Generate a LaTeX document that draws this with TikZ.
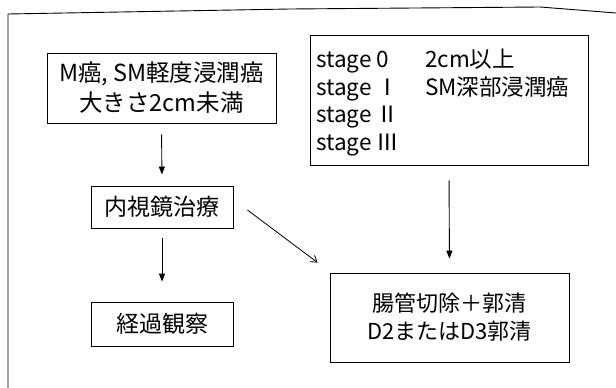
\documentclass[tikz,border=0pt]{standalone}
\usepackage{fontspec}
\newfontfamily\jpfont{Noto Sans CJK JP}
\usetikzlibrary{arrows.meta}
\tikzset{
  every picture/.style={x=1pt,y=-1pt},
  boxnode/.style={draw, line width=0.9pt, inner sep=0pt, align=center,
    font=\jpfont\fontsize{23}{29}\selectfont},
  solidarrow/.style={line width=0.9pt, -{Triangle[length=8pt,width=6pt]}},
  openarrow/.style={line width=0.8pt, -{Straight Barb[length=6pt,width=8pt]}},
}
\begin{document}
\begin{tikzpicture}
\useasboundingbox (0,0) rectangle (616,388);
% outer frame (only top and left visible)
\draw[line width=0.9pt] (8,392) -- (8,14) -- (290,9) -- (540,7) -- (616,13);

\node[boxnode, minimum width=229pt, minimum height=70pt, font=\jpfont\fontsize{23.5}{30}\selectfont] (early) at (161.5,88)
  {M癌, SM軽度浸潤癌\\大きさ2cm未満};
\node[boxnode, minimum width=278pt, minimum height=130pt] (stage) at (449,100) {};
\node[anchor=north west, inner sep=0pt, font=\jpfont\fontsize{22.5}{27.7}\selectfont] (stagetext) at (316,48)
  {\begin{tabular}{@{}p{109pt}@{}l@{}}
   stage 0 & 2cm以上\\
   stage Ⅰ & SM深部浸潤癌\\
   stage Ⅱ & \\
   stage Ⅲ &
   \end{tabular}};
\node[boxnode, minimum width=142pt, minimum height=42pt] (endo) at (162,207) {内視鏡治療};
\node[boxnode, minimum width=142pt, minimum height=44pt] (obs) at (162,324) {経過観察};
\node[boxnode, minimum width=239pt, minimum height=89pt, font=\jpfont\fontsize{22}{28}\selectfont] (surg) at (449.5,317.5)
  {腸管切除＋郭清\\D2またはD3郭清};

\draw[solidarrow, shorten <=11pt, shorten >=11pt] (early.south) -- (endo.north);
\draw[solidarrow, shorten <=10pt, shorten >=20pt] (endo.south) -- (obs.north);
\draw[solidarrow, shorten <=15pt, shorten >=14pt] (stage.south) -- (surg.north);
\draw[openarrow] ([shift={(14,3)}]endo.east) -- ([shift={(-12,-10)}]surg.north west);
\end{tikzpicture}
\end{document}
